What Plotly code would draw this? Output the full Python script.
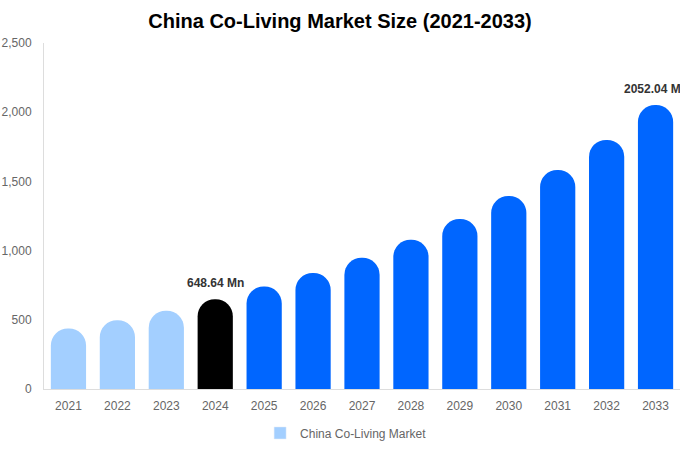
import plotly.graph_objects as go

# market size by year, USD Mn
years = ['2021', '2022', '2023', '2024', '2025', '2026', '2027',
         '2028', '2029', '2030', '2031', '2032', '2033']
market_size = [437, 497, 565, 648.64, 740, 838, 948,
               1078, 1228, 1395, 1583, 1800, 2052.04]
bar_colors = ['#a3cfff'] * 3 + ['#000000'] + ['#0066ff'] * 9
labels = ['', '', '', '648.64 Mn', '', '', '', '', '', '', '', '', '2052.04 Mn']
ytick_vals = [0, 500, 1000, 1500, 2000, 2500]

fig = go.Figure()
fig.add_trace(go.Bar(
    x=years, y=market_size, showlegend=False, hoverinfo='x+y',
    marker=dict(color=bar_colors, cornerradius='50%', line=dict(width=0)),
))
# legend entry only
fig.add_trace(go.Bar(x=[None], y=[None], name='China Co-Living Market',
                     marker=dict(color='#a3cfff'), showlegend=True))

# value labels above the highlighted bars (x given as category index)
for i, (val, lab) in enumerate(zip(market_size, labels)):
    if lab:
        fig.add_annotation(x=i, y=val, xref='x', yref='y', text='<b>' + lab + '</b>',
                           showarrow=False, yanchor='bottom', yshift=7,
                           font=dict(family='Liberation Sans', size=12, color='#333333'))

fig.update_layout(
    width=680, height=450,
    paper_bgcolor='white', plot_bgcolor='white',
    margin=dict(l=44, r=0, t=43, b=61),
    bargap=0.28,
    font=dict(family='Liberation Sans', size=12, color='#666666'),
    title=dict(text='<b>China Co-Living Market Size (2021-2033)</b>',
               x=0.5, xanchor='center', y=1 - 21 / 450, yanchor='middle',
               font=dict(family='Liberation Sans', size=20, color='#000000')),
    legend=dict(orientation='h', x=0.475, xanchor='center', y=-0.127, yanchor='middle',
                font=dict(size=12, color='#666666')),
    xaxis=dict(type='category', range=[-0.5, len(years) - 0.5], showline=True,
               linecolor='#dddddd', showgrid=False, ticks='', ticklabelstandoff=6,
               automargin=False),
    yaxis=dict(range=[0, 2500], tickvals=ytick_vals, tickformat=',', showgrid=False,
               showline=True, linecolor='#dddddd', zeroline=False, ticks='',
               ticklabelstandoff=9, automargin=False),
)

# page margin off so the figure sits at the window's corner
fig.write_html("out.html", config={'displayModeBar': False},
               post_script="document.body.style.margin='0';")
